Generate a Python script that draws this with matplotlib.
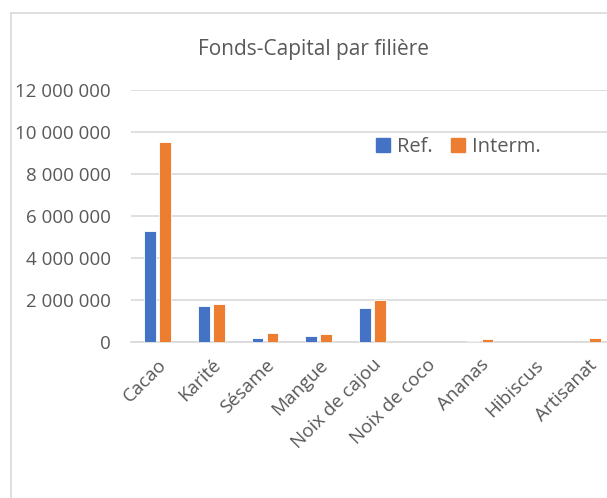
import numpy as np
import matplotlib.pyplot as plt
from matplotlib.lines import Line2D
from matplotlib.patches import Patch
from matplotlib.ticker import FuncFormatter

filieres = ['Cacao', 'Karité', 'Sésame', 'Mangue', 'Noix de cajou',
            'Noix de coco', 'Ananas', 'Hibiscus', 'Artisanat']
ref = [5270000, 1700000, 170000, 280000, 1600000, 0, 50000, 0, 10000]
interm = [9540000, 1820000, 430000, 380000, 1980000, 0, 140000, 0, 190000]

BLEU = '#4472C4'
ORANGE = '#ED7D31'
GRIS = '#595959'
GRILLE = '#D9D9D9'

plt.rcParams['font.family'] = ['Open Sans', 'DejaVu Sans']

fig = plt.figure(figsize=(6.07, 4.98), dpi=100)
ax = fig.add_axes([130.5 / 607, 156 / 498, 484 / 607, 252 / 498])

x = np.arange(len(filieres))
ax.bar(x - 0.137, ref, width=0.22, color=BLEU, edgecolor='white', linewidth=0.6, zorder=3)
ax.bar(x + 0.14, interm, width=0.22, color=ORANGE, edgecolor='white', linewidth=0.6, zorder=3)

ax.set_xlim(-0.5, len(filieres) - 0.5)
ax.set_ylim(0, 12000000)
ax.set_yticks(np.arange(0, 12000001, 2000000))
ax.yaxis.set_major_formatter(FuncFormatter(lambda v, p: f"{int(v):,}".replace(',', ' ')))
ax.grid(axis='y', color=GRILLE, linewidth=1.2, zorder=0)
for s in ['top', 'right', 'left']:
    ax.spines[s].set_visible(False)
ax.spines['bottom'].set_color(GRILLE)
ax.spines['bottom'].set_linewidth(1.2)
ax.tick_params(axis='both', length=0, colors=GRIS, labelsize=13.5)
ax.tick_params(axis='y', pad=14)
ax.set_xticks(x)
ax.set_xticklabels(filieres, rotation=45, ha='right', va='top', rotation_mode='anchor')
ax.tick_params(axis='x', pad=10)

fig.text(314 / 607, 1 - 50 / 498, 'Fonds-Capital par filière', ha='center', va='center',
         fontsize=15, color=GRIS)

poignees = [Patch(color=BLEU), Patch(color=ORANGE)]
fig.legend(poignees, ['Ref.', 'Interm.'], loc='center', bbox_to_anchor=(458 / 607, 1 - 147 / 498),
           ncol=2, frameon=False, fontsize=14.5, labelcolor=GRIS, handlelength=0.7,
           handleheight=0.7, handletextpad=0.35, columnspacing=0.9)

# cadre du graphique
fig.add_artist(Line2D([11 / 607, 11 / 607], [0, 1 - 13 / 498], color=GRILLE, linewidth=1.2))
fig.add_artist(Line2D([11 / 607, 1], [1 - 13 / 498, 1 - 13 / 498], color=GRILLE, linewidth=1.2))

fig.savefig('out.png', dpi=100)
